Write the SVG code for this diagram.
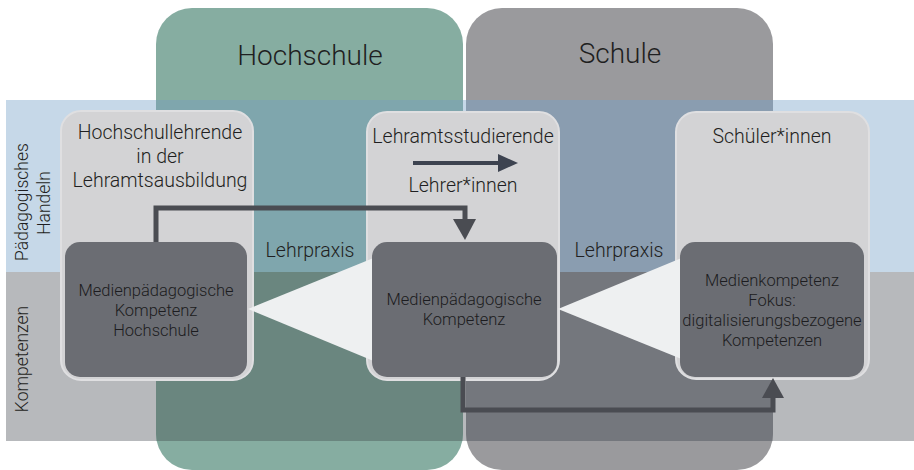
<svg xmlns="http://www.w3.org/2000/svg" width="914" height="470" viewBox="0 0 914 470">
  <style>
    text { font-family: Roboto, "Liberation Sans", Arial, sans-serif; font-weight: 300; fill: #1f1f21; }
    .head { font-size: 28px; text-anchor: middle; }
    .title { font-size: 19.5px; text-anchor: middle; }
    .side { font-size: 17.5px; text-anchor: middle; }
    .inner { font-size: 16.5px; text-anchor: middle; fill: #1c1c20; }
    .card { fill: #d3d3d5; stroke: #dfdfe1; stroke-width: 2; }
    .box { fill: #6b6d73; }
    .wedge { fill: #eef0f1; }
    .link { fill: none; stroke: #4a4c52; stroke-width: 5; }
    .tip { fill: #4a4c52; }
  </style>
  <defs>
    <clipPath id="clipHochschule"><rect x="156" y="8" width="307" height="462" rx="36"/></clipPath>
    <clipPath id="clipSchule"><rect x="466" y="8" width="307" height="462" rx="36"/></clipPath>
  </defs>

  <!-- horizontal bands -->
  <g id="bands">
    <rect x="6" y="100" width="908" height="172" fill="#c6d8e8"/>
    <rect x="6" y="272" width="908" height="169" fill="#b7b9bc"/>
  </g>

  <!-- institution columns, tinted per band -->
  <g id="col-hochschule" clip-path="url(#clipHochschule)">
    <rect x="156" y="8" width="307" height="462" fill="#86ada1"/>
    <rect x="156" y="100" width="307" height="172" fill="#7fa6ad"/>
    <rect x="156" y="272" width="307" height="169" fill="#6a867f"/>
  </g>
  <g id="col-schule" clip-path="url(#clipSchule)">
    <rect x="466" y="8" width="307" height="462" fill="#9a9a9d"/>
    <rect x="466" y="100" width="307" height="172" fill="#8a9db0"/>
    <rect x="466" y="272" width="307" height="169" fill="#74777d"/>
  </g>
  <text class="head" x="310" y="65">Hochschule</text>
  <text class="head" x="620" y="63">Schule</text>

  <!-- row labels -->
  <g id="row-labels">
    <text class="side" transform="translate(28,202) rotate(-90)">Pädagogisches</text>
    <text class="side" transform="translate(50,203) rotate(-90)">Handeln</text>
    <text class="side" transform="translate(28,359) rotate(-90)">Kompetenzen</text>
  </g>

  <!-- actor cards -->
  <g id="card-hochschullehrende">
    <rect class="card" x="61" y="111" width="192" height="269" rx="20"/>
    <text class="title" x="160" y="139">Hochschullehrende</text>
    <text class="title" x="160" y="163">in der</text>
    <text class="title" x="160" y="187">Lehramtsausbildung</text>
  </g>
  <g id="card-studierende">
    <rect class="card" x="367" y="112" width="192" height="268" rx="20"/>
    <text class="title" x="463" y="143">Lehramtsstudierende</text>
    <line x1="413" y1="163" x2="502" y2="163" stroke="#3d4350" stroke-width="4"/>
    <polygon points="498,154 518,163 498,172" fill="#3d4350"/>
    <text class="title" x="463" y="192">Lehrer*innen</text>
  </g>
  <g id="card-schueler">
    <rect class="card" x="676" y="112" width="193" height="267" rx="20"/>
    <text class="title" x="772" y="143">Schüler*innen</text>
  </g>

  <!-- Lehrpraxis wedges -->
  <g id="lehrpraxis">
    <polygon class="wedge" points="248,309 376,257 376,362"/>
    <polygon class="wedge" points="558,309 684,257 684,360"/>
    <text class="title" x="310" y="257">Lehrpraxis</text>
    <text class="title" x="619" y="257">Lehrpraxis</text>
  </g>

  <!-- competence boxes -->
  <g id="box-hochschule">
    <rect class="box" x="65" y="242" width="182" height="135" rx="15"/>
    <text class="inner" x="156" y="296">Medienpädagogische</text>
    <text class="inner" x="156" y="316">Kompetenz</text>
    <text class="inner" x="156" y="336">Hochschule</text>
  </g>
  <g id="box-lehrkraft">
    <rect class="box" x="372" y="242" width="185" height="135" rx="15"/>
    <text class="inner" x="464" y="305">Medienpädagogische</text>
    <text class="inner" x="464" y="325">Kompetenz</text>
  </g>
  <g id="box-schueler">
    <rect class="box" x="680" y="242" width="184" height="135" rx="15"/>
    <text class="inner" x="772" y="286">Medienkompetenz</text>
    <text class="inner" x="772" y="306">Fokus:</text>
    <text class="inner" x="772" y="326">digitalisierungsbezogene</text>
    <text class="inner" x="772" y="346">Kompetenzen</text>
  </g>

  <!-- connectors -->
  <g id="connectors">
    <polyline class="link" points="156,242 156,208 465,208 465,222"/>
    <polygon class="tip" points="453,219 476,219 465,240"/>
    <polyline class="link" points="463,377 463,410 773,410 773,396"/>
    <polygon class="tip" points="762,398 784,398 773,378"/>
  </g>
</svg>
